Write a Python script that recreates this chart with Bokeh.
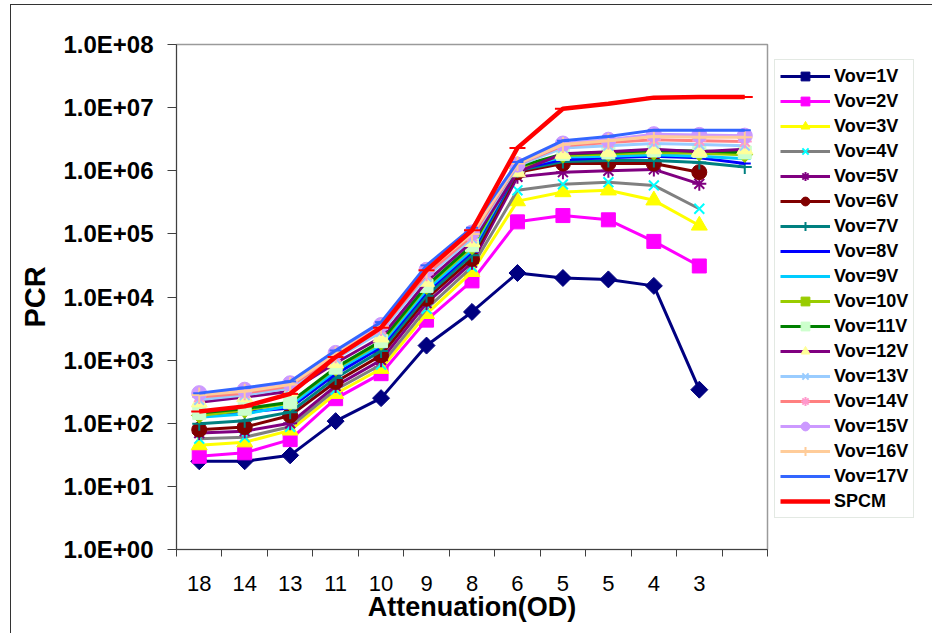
import math
from bokeh.plotting import figure
from bokeh.models import (Range1d, FixedTicker, CustomJSTickFormatter, Legend,
                          LegendItem, ColumnDataSource)
from bokeh.embed import file_html
from bokeh.resources import INLINE

# ---------------- data ----------------
categories = ["18", "14", "13", "11", "10", "9", "8", "6", "5", "5", "4", "3", ""]

vov1 = [25, 25, 31, 108, 250, 1700, 5800, 24000, 20000, 19000, 15000, 340]
vov2 = [30, 34, 55, 245, 610, 4300, 18000, 155000, 195000, 167000, 76000, 31000]
vov3 = [45, 50, 77, 293, 730, 5400, 25000, 330000, 460000, 490000, 340000, 136000]
vov4 = [57, 60, 88, 340, 850, 6500, 30000, 490000, 610000, 660000, 585000, 250000]
vov5 = [70, 75, 100, 390, 1000, 8000, 35000, 800000, 950000, 1000000, 1050000, 620000]
vov6 = [79, 87, 133, 450, 1190, 9400, 40000, 950000, 1300000, 1300000, 1300000, 950000]
vov7 = [98, 110, 150, 520, 1400, 10500, 46000, 1000000, 1400000, 1450000, 1450000, 1350000, 1150000]
vov8 = [133, 150, 175, 600, 1600, 12000, 52000, 1050000, 1500000, 1600000, 1700000, 1600000, 1300000]
vov9 = [125, 140, 190, 680, 1750, 13000, 56000, 1100000, 1650000, 1700000, 1800000, 1700000, 1550000]
vov10 = [133, 160, 210, 740, 1900, 14500, 62000, 1100000, 1750000, 1850000, 1950000, 1900000, 1800000]
vov11 = [145, 170, 215, 760, 2000, 15000, 66000, 1150000, 1850000, 1950000, 2100000, 2050000, 1950000]
vov12 = [215, 260, 320, 900, 2300, 17500, 75000, 950000, 1860000, 2000000, 2200000, 2000000, 2200000]
vov13 = [235, 280, 360, 1050, 2800, 21000, 85000, 1200000, 2300000, 2500000, 2700000, 2600000, 2500000]
vov14 = [260, 300, 390, 1150, 3100, 23000, 92000, 1250000, 2500000, 2800000, 3100000, 3000000, 2900000]
vov15 = [300, 340, 430, 1300, 3600, 27000, 105000, 1250000, 2700000, 3100000, 3800000, 3700000, 3600000]
vov16 = [280, 320, 410, 1250, 3400, 26000, 100000, 1300000, 2600000, 3000000, 3500000, 3400000, 3400000]
vov17 = [300, 365, 460, 1420, 4000, 31700, 125000, 1370000, 3000000, 3500000, 4400000, 4400000, 4400000]
spcm = [154, 185, 292, 1120, 3260, 26500, 114000, 2300000, 9600000, 11500000, 14400000, 14700000, 14700000]

series_names = ["Vov=1V", "Vov=2V", "Vov=3V", "Vov=4V", "Vov=5V", "Vov=6V", "Vov=7V",
                "Vov=8V", "Vov=9V", "Vov=10V", "Vov=11V", "Vov=12V", "Vov=13V",
                "Vov=14V", "Vov=15V", "Vov=16V", "Vov=17V", "SPCM"]
series_values = [vov1, vov2, vov3, vov4, vov5, vov6, vov7, vov8, vov9, vov10, vov11,
                 vov12, vov13, vov14, vov15, vov16, vov17, spcm]

# ---------------- styles ----------------
D = math.pi / 4
styles = [
    # line color, line width, marker, marker color, size, angle
    ("#000080", 3, "square", "#000080", 12, D),
    ("#FF00FF", 3, "square", "#FF00FF", 14, 0),
    ("#FFFF00", 3, "triangle", "#FFFF00", 16, 0),
    ("#808080", 3, "x", "#00FFFF", 14, 0),
    ("#800080", 3, "asterisk", "#800080", 14, 0),
    ("#800000", 3, "circle", "#800000", 15, 0),
    ("#008080", 3, "cross", "#008080", 14, 0),
    ("#0000FF", 3, "dash", "#0000FF", 12, 0),
    ("#00CCFF", 3, "dash", "#00CCFF", 12, 0),
    ("#99CC00", 3, "square", "#99CC00", 11, D),
    ("#008000", 3, "square", "#CCFFCC", 13, 0),
    ("#800080", 3, "triangle", "#FFFF99", 16, 0),
    ("#99CCFF", 3, "x", "#99CCFF", 14, 0),
    ("#FF8080", 3, "asterisk", "#FF99CC", 14, 0),
    ("#CC99FF", 3, "circle", "#CC99FF", 15, 0),
    ("#FFCC99", 3, "cross", "#FFCC99", 15, 0),
    ("#3366FF", 3, "dash", "#3366FF", 12, 0),
    ("#FF0000", 4.5, "dash", "#FF0000", 16, 0),
]

FONT = "Liberation Sans"
n = len(categories)
xs = [i + 0.5 for i in range(n)]

p = figure(frame_width=591, frame_height=505,
           x_range=Range1d(0, n), y_range=Range1d(1, 1e8), y_axis_type="log",
           output_backend="svg", toolbar_location=None,
           min_border_left=165, min_border_top=39, min_border_bottom=84,
           min_border_right=160, background_fill_color="white",
           border_fill_color="white")
p.styles = {"margin-left": "10px", "margin-top": "4px",
            "border-left": "1px solid #333333", "border-top": "1px solid #333333",
            "border-right": "1px solid #333333"}

p.xgrid.visible = False
p.ygrid.visible = False
p.outline_line_color = "#9A9A9A"
p.outline_line_width = 1.5

# y axis
ya = p.yaxis[0]
ya.ticker = FixedTicker(ticks=[10.0 ** k for k in range(9)], minor_ticks=[])
ya.formatter = CustomJSTickFormatter(code="""
const e = Math.round(Math.log10(tick));
return '1.0E+' + (e < 10 ? '0' : '') + e;
""")
ya.major_tick_out = 9
ya.major_tick_in = 0
ya.minor_tick_out = 0
ya.minor_tick_in = 0
ya.major_label_standoff = 14
ya.major_label_text_font = FONT
ya.major_label_text_font_size = "24px"
ya.major_label_text_font_style = "bold"
ya.major_label_text_color = "black"
ya.axis_label = "PCR"
ya.axis_label_text_font = FONT
ya.axis_label_text_font_size = "29px"
ya.axis_label_text_font_style = "bold"
ya.axis_label_text_color = "black"
ya.axis_label_standoff = 9
ya.axis_line_color = "#404040"
ya.major_tick_line_color = "#404040"

# x axis
xa = p.xaxis[0]
xa.ticker = FixedTicker(ticks=xs, minor_ticks=list(range(n + 1)))
xa.formatter = CustomJSTickFormatter(args=dict(labels=categories),
                                     code="return labels[Math.floor(tick)] || '';")
xa.major_tick_out = 0
xa.major_tick_in = 0
xa.minor_tick_out = 7
xa.minor_tick_in = 0
xa.major_label_standoff = 19
xa.major_label_text_font = FONT
xa.major_label_text_font_size = "22px"
xa.major_label_text_color = "black"
xa.axis_label = "Attenuation(OD)"
xa.axis_label_text_font = FONT
xa.axis_label_text_font_size = "27px"
xa.axis_label_text_font_style = "bold"
xa.axis_label_text_color = "black"
xa.axis_label_standoff = -2
xa.axis_line_color = "#404040"
xa.minor_tick_line_color = "#404040"

items = []
for name, vals, st in zip(series_names, series_values, styles):
    lc, lw, mk, mc, sz, ang = st
    src = ColumnDataSource(dict(x=xs[:len(vals)], y=vals))
    lr = p.line("x", "y", source=src, line_color=lc, line_width=lw)
    sr = p.scatter("x", "y", source=src, marker=mk, size=sz, angle=ang,
                   fill_color=mc, line_color=mc,
                   line_width=2 if mk in ("x", "dash", "cross", "asterisk") else 1)
    items.append(LegendItem(label=name, renderers=[lr, sr]))

legend = Legend(items=items, location=(7, 31), margin=0, padding=5,
                spacing=3, label_height=22, glyph_height=22, glyph_width=50,
                label_standoff=4, label_text_font=FONT, label_text_font_size="18px",
                label_text_font_style="bold", label_text_color="black",
                border_line_color="#C8D4C8", border_line_width=1.5,
                background_fill_color="white", background_fill_alpha=1)
p.add_layout(legend, "right")

open("out.html", "w").write(file_html(p, INLINE))
